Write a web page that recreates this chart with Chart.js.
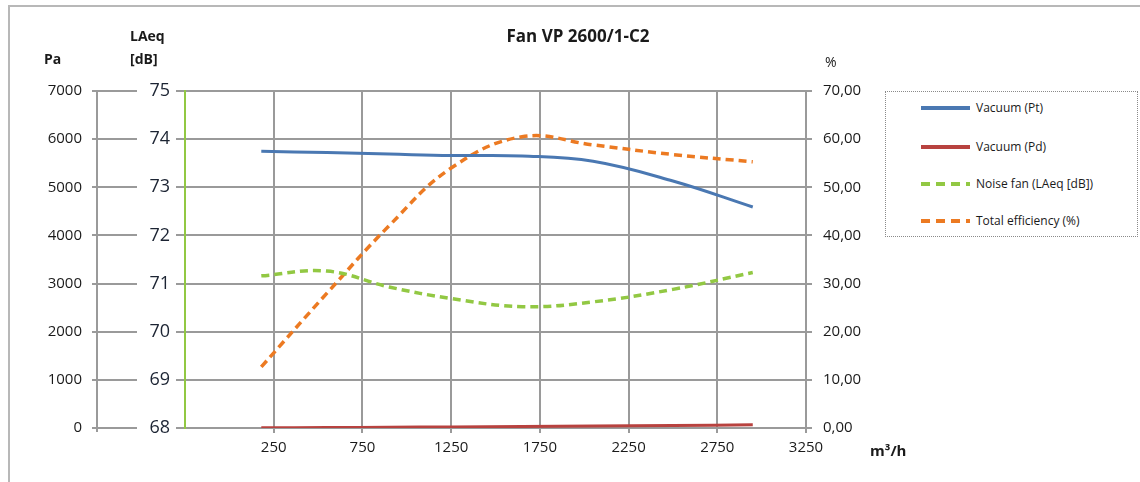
<!DOCTYPE html>
<html>
<head>
<meta charset="utf-8">
<script src="https://cdn.jsdelivr.net/npm/chart.js@4.4.0/dist/chart.umd.min.js"></script>
<style>
  body { margin: 0; background: #fff; overflow: hidden; font-family: "Open Sans", sans-serif; }
  #wrap { position: relative; width: 1140px; height: 482px; }
  #frame { position: absolute; left: 8px; top: 5px; width: 1160px; height: 520px; border: 2px solid #b8b8b8; }
  #legend { position: absolute; left: 885px; top: 91px; width: 251px; height: 144px; border: 1px dotted #8a8a8a; background: #fff; }
  .row { position: absolute; left: 34px; height: 16px; font-size: 12px; color: #1a1a1a; line-height: 16px; }
  .row svg { position: absolute; left: 0; top: 4px; }
  .row span { position: absolute; left: 56px; white-space: nowrap; }
</style>
</head>
<body>
<div id="wrap">
  <div id="frame"></div>
  <canvas id="myChart"></canvas>
  <div id="legend"></div>
</div>
<script>
var flowRates = [180, 550, 900, 1250, 1650, 2050, 2500, 2950];
var vacuumPt = [5750, 5720, 5690, 5660, 5650, 5540, 5130, 4590];
var vacuumPd = [3, 8, 15, 22, 32, 42, 52, 65];
var noiseFan = [71.16, 71.26, 70.93, 70.69, 70.52, 70.62, 70.88, 71.23];
var efficiency = [12.7, 28, 42, 54, 60.5, 58.8, 56.8, 55.3];

var seriesNames = ["Vacuum (Pt)", "Vacuum (Pd)", "Noise fan (LAeq [dB])", "Total efficiency (%)"];
var seriesColors = ["#4a78b2", "#b8423f", "#92c843", "#ec7a22"];

var xRange = [-250, 3250, 500];
var paRange = [0, 7000, 1000];
var dbRange = [68, 75, 1];
var pctRange = [0, 70, 10];

var gridColor = "#9a9a9a";
Chart.defaults.font.family = "'Open Sans', sans-serif";
Chart.defaults.color = "#1a1a1a";

function points(ys) {
  return flowRates.map(function (x, i) { return {x: x, y: ys[i]}; });
}

function makeSet(i, ys, axis, dashed) {
  return {
    label: seriesNames[i],
    data: points(ys),
    yAxisID: axis,
    borderColor: seriesColors[i],
    backgroundColor: seriesColors[i],
    borderWidth: dashed ? 3.5 : 3,
    borderDash: dashed ? [8, 5] : [],
    showLine: true,
    pointRadius: 0,
    tension: 0.4
  };
}

// axis titles, chart title and the Pa axis line
var extraText = {
  id: "extraText",
  afterDraw: function (chart) {
    var ctx = chart.ctx;
    var pa = chart.scales.yPa;
    var area = chart.chartArea;
    ctx.save();
    ctx.strokeStyle = gridColor;
    ctx.lineWidth = 2;
    ctx.beginPath();
    ctx.moveTo(pa.right - 40, pa.top);
    ctx.lineTo(pa.right - 40, pa.bottom + 4);
    ctx.stroke();

    ctx.fillStyle = "#1a1a1a";
    ctx.textBaseline = "middle";
    ctx.textAlign = "center";
    ctx.font = "bold 17px 'Open Sans'";
    ctx.fillText("Fan VP 2600/1-C2", 578, 37);

    ctx.textAlign = "left";
    ctx.font = "bold 14px 'Open Sans'";
    ctx.fillText("Pa", 44, 60);
    ctx.fillText("LAeq", 130, 37);
    ctx.fillText("[dB]", 130, 60);
    ctx.font = "14px 'Open Sans'";
    ctx.fillText("%", area.right + 19, 63);
    ctx.font = "bold 15px 'Open Sans'";
    ctx.fillText("m\u00b3/h", area.right + 64, 452);
    ctx.restore();
  }
};

var chart = new Chart("myChart", {
  type: "scatter",
  data: {
    datasets: [
      makeSet(0, vacuumPt, "yPa", false),
      makeSet(1, vacuumPd, "yPa", false),
      makeSet(2, noiseFan, "yDb", true),
      makeSet(3, efficiency, "yPct", true)
    ]
  },
  options: {
    responsive: true,
    maintainAspectRatio: false,
    animation: false,
    layout: {padding: {left: 10, right: 264, top: 91, bottom: 24}},
    plugins: {legend: {display: false}, tooltip: {enabled: false}},
    scales: {
      x: {
        type: "linear",
        min: xRange[0], max: xRange[1],
        afterFit: function (s) { s.height = 30; },
        ticks: {
          stepSize: xRange[2], padding: 6, font: {size: 15},
          callback: function (v) { return v === xRange[0] ? "" : v; }
        },
        grid: {
          color: function (c) { return c.tick && c.tick.value === xRange[0] ? "rgba(0,0,0,0)" : gridColor; },
          lineWidth: 2, tickLength: 5
        },
        border: {color: gridColor, width: 2}
      },
      yDb: {
        position: "left",
        min: dbRange[0], max: dbRange[1],
        afterFit: function (s) { s.width = 48; },
        ticks: {stepSize: dbRange[2], padding: 6, font: {size: 18}, color: "#1c2433"},
        grid: {drawOnChartArea: false, color: gridColor, lineWidth: 2, tickLength: 9},
        border: {color: "#92c843", width: 2}
      },
      yPa: {
        position: "left",
        min: paRange[0], max: paRange[1],
        afterFit: function (s) { s.width = 127; },
        ticks: {
          stepSize: paRange[2], padding: 10, font: {size: 15},
          callback: function (v) { return String(v); }
        },
        grid: {color: gridColor, lineWidth: 2, tickLength: 45},
        border: {display: false}
      },
      yPct: {
        position: "right",
        min: pctRange[0], max: pctRange[1],
        afterFit: function (s) { s.width = 70; },
        ticks: {
          stepSize: pctRange[2], padding: 11, font: {size: 15},
          callback: function (v) { return v.toFixed(2).replace(".", ","); }
        },
        grid: {drawOnChartArea: false, color: gridColor, lineWidth: 2, tickLength: 6},
        border: {color: gridColor, width: 2}
      }
    }
  },
  plugins: [extraText]
});

// legend built from the chart's datasets
var legendBox = document.getElementById("legend");
var rowTops = [8, 47, 84, 121];
chart.data.datasets.forEach(function (ds, i) {
  var row = document.createElement("div");
  row.className = "row";
  row.style.top = rowTops[i] + "px";
  var dash = ds.borderDash.length ? ' stroke-dasharray="9,6"' : "";
  row.innerHTML = '<svg width="52" height="8"><line x1="1" y1="4" x2="50" y2="4" stroke="' + ds.borderColor +
    '" stroke-width="4"' + dash + '/></svg><span></span>';
  row.querySelector("span").textContent = ds.label;
  legendBox.appendChild(row);
});
</script>
</body>
</html>
